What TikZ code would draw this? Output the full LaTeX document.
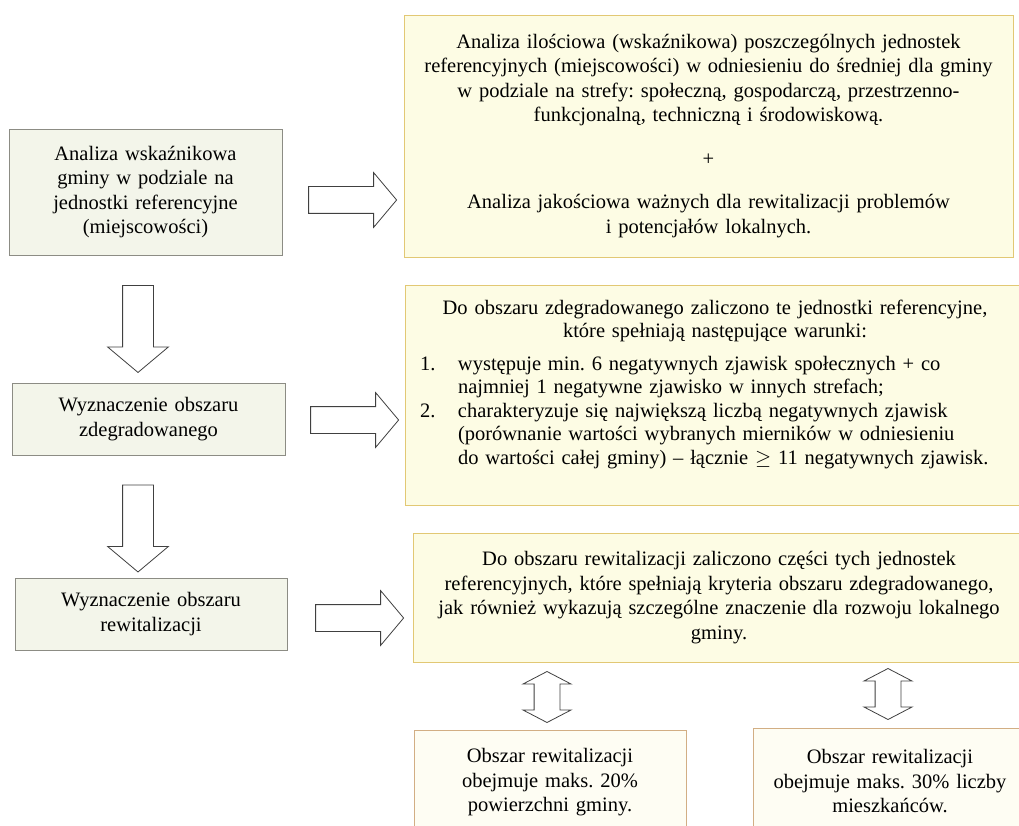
\documentclass[tikz,border=0pt]{standalone}
\usepackage{fontspec}
\setmainfont{Liberation Serif}
\usepackage{xcolor}
\usepackage{tikz}
\usetikzlibrary{shapes.arrows}

\definecolor{leftfill}{HTML}{F3F5EA}
\definecolor{leftline}{HTML}{8C8C84}
\definecolor{rightfill}{HTML}{FDFCE4}
\definecolor{rightline}{HTML}{E2C874}
\definecolor{lowfill}{HTML}{FEFDF3}
\definecolor{lowline}{HTML}{D2AE84}
\definecolor{arrline}{HTML}{404040}

\begin{document}
\frenchspacing
\begin{tikzpicture}[x=1pt,y=-1pt,
  txt/.style={font=\fontsize{20.5}{24.5}\selectfont, inner xsep=4pt, inner ysep=0pt, line width=0.8pt},
  leftbox/.style={txt, draw=leftline, fill=leftfill, align=center},
  rightbox/.style={txt, draw=rightline, fill=rightfill},
  lowbox/.style={txt, draw=lowline, fill=lowfill, align=center},
  rarrow/.style={single arrow, draw=arrline, fill=white, line width=0.8pt, inner sep=13pt,
    single arrow head extend=14pt, single arrow tip angle=100, minimum height=88pt},
  darrow/.style={rarrow, rotate=-90, inner sep=15pt, single arrow head extend=15pt, minimum height=87pt},
  dblarrow/.style={double arrow, draw=arrline, fill=white, line width=0.8pt, inner sep=12.5pt,
    double arrow head extend=11pt, double arrow tip angle=125, minimum height=51pt, rotate=90}]
\useasboundingbox (0,0) rectangle (1019,826);

% lewa kolumna
\node[leftbox, text width=265pt, minimum height=126pt] (analiza) at (145.5,192)
  {Analiza wskaźnikowa\\ gminy w podziale na\\ jednostki referencyjne\\ (miejscowości)};
\node[leftbox, text width=265pt, minimum height=72pt] (zdeg) at (148.5,419)
  {Wyznaczenie obszaru\\ zdegradowanego};
\node[leftbox, text width=264pt, minimum height=72pt] (rewit) at (151,614)
  {Wyznaczenie obszaru\\ rewitalizacji};

% prawa kolumna
\node[rightbox, text width=601pt, minimum height=242pt, align=center] (ilosc) at (708.5,136)
  {Analiza ilościowa (wskaźnikowa) poszczególnych jednostek\\
   referencyjnych (miejscowości) w odniesieniu do średniej dla gminy\\
   w podziale na strefy: społeczną, gospodarczą, przestrzenno-\\
   funkcjonalną, techniczną i środowiskową.\\[19pt]
   +\\[19pt]
   Analiza jakościowa ważnych dla rewitalizacji problemów\\
   i potencjałów lokalnych.};
\node[rightbox, inner xsep=15pt, text width=590pt, minimum height=220pt,
      font=\fontsize{20.5}{23.5}\selectfont] (warunki) at (715,395)
  {{\centering Do obszaru zdegradowanego zaliczono te jednostki referencyjne,\\
   które spełniają następujące warunki:\par}
   \vspace{9pt}
   {\raggedright
   \hangindent=38pt\hangafter=1\makebox[38pt][l]{1.}występuje min. 6 negatywnych zjawisk społecznych + co\newline
   najmniej 1 negatywne zjawisko w innych strefach;\par
   \hangindent=38pt\hangafter=1\makebox[38pt][l]{2.}charakteryzuje się największą liczbą negatywnych zjawisk\newline
   (porównanie wartości wybranych mierników w odniesieniu\newline
   do wartości całej gminy) – łącznie \ensuremath{\geq} 11 negatywnych zjawisk.\par}
   \vspace{22pt}\hrule height 0pt};
\node[rightbox, text width=604pt, minimum height=129pt, align=center] (kryteria) at (719,597.5)
  {Do obszaru rewitalizacji zaliczono części tych jednostek\\
   referencyjnych, które spełniają kryteria obszaru zdegradowanego,\\
   jak również wykazują szczególne znaczenie dla rozwoju lokalnego\\
   gminy.};

% ograniczenia
\node[lowbox, text width=264pt, minimum height=105pt] (pow) at (550,782.5)
  {Obszar rewitalizacji\\ obejmuje maks. 20\%\\ powierzchni gminy.};
\node[lowbox, text width=266pt, minimum height=107pt] (miesz) at (890,781.5)
  {Obszar rewitalizacji\\ obejmuje maks. 30\% liczby\\ mieszkańców.};

% strzalki
\node[rarrow] (a1) at (347,200) {};
\node[rarrow] (a2) at (349,420) {};
\node[rarrow] (a3) at (354,618) {};
\node[darrow] (d1) at (138,322.5) {};
\node[darrow] (d2) at (138,522) {};
\node[dblarrow] (b1) at (547,697) {};
\node[dblarrow] (b2) at (888,694) {};
\end{tikzpicture}
\end{document}
